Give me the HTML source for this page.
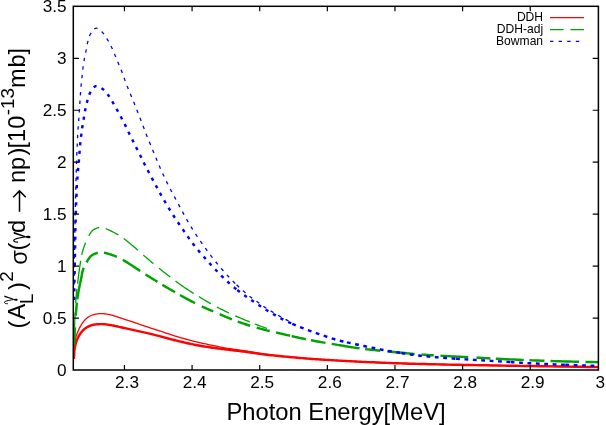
<!DOCTYPE html>
<html><head><meta charset="utf-8"><title>plot</title>
<style>html,body{margin:0;padding:0;background:#fff;}body{width:606px;height:425px;position:relative;overflow:hidden;font-family:"Liberation Sans",sans-serif;}</style>
</head><body>
<svg width="606" height="425" viewBox="0 0 606 425" style="position:absolute;left:0;top:0;will-change:transform;opacity:0.999">
<rect x="0" y="0" width="606" height="425" fill="#fff"/>
<defs><clipPath id="c"><rect x="72.8" y="5.8" width="526.1" height="364.7"/></clipPath></defs>
<g fill="none" stroke-linejoin="round" clip-path="url(#c)">
<path d="M73.90,358.90 L73.95,358.05 L74.00,357.20 L74.04,356.34 L74.07,355.48 L74.11,354.62 L74.15,353.76 L74.19,352.91 L74.25,352.07 L74.31,351.23 L74.39,350.40 L74.49,349.59 L74.60,348.80 L74.72,348.10 L74.84,347.41 L74.97,346.72 L75.11,346.05 L75.27,345.38 L75.42,344.72 L75.59,344.07 L75.77,343.42 L75.96,342.78 L76.16,342.15 L76.38,341.52 L76.60,340.90 L76.82,340.31 L77.05,339.73 L77.30,339.16 L77.55,338.59 L77.81,338.03 L78.08,337.47 L78.35,336.92 L78.64,336.38 L78.94,335.85 L79.25,335.32 L79.57,334.81 L79.90,334.30 L80.23,333.81 L80.57,333.33 L80.91,332.85 L81.27,332.38 L81.63,331.92 L82.01,331.47 L82.39,331.02 L82.79,330.59 L83.20,330.17 L83.62,329.77 L84.05,329.38 L84.50,329.00 L84.98,328.63 L85.47,328.26 L85.98,327.91 L86.49,327.57 L87.02,327.25 L87.57,326.94 L88.12,326.64 L88.69,326.36 L89.28,326.09 L89.87,325.84 L90.48,325.61 L91.10,325.40 L91.84,325.18 L92.60,324.98 L93.39,324.80 L94.20,324.65 L95.02,324.52 L95.86,324.41 L96.71,324.31 L97.56,324.24 L98.42,324.18 L99.29,324.14 L100.15,324.11 L101.00,324.10 L101.91,324.11 L102.83,324.14 L103.76,324.21 L104.70,324.29 L105.64,324.39 L106.58,324.51 L107.53,324.64 L108.47,324.79 L109.41,324.94 L110.35,325.09 L111.28,325.25 L112.20,325.40 L113.09,325.56 L113.98,325.72 L114.85,325.90 L115.72,326.08 L116.59,326.27 L117.45,326.47 L118.32,326.67 L119.20,326.87 L120.08,327.08 L120.97,327.29 L121.88,327.50 L122.80,327.70 L123.85,327.93 L124.91,328.16 L125.99,328.40 L127.09,328.64 L128.19,328.88 L129.30,329.12 L130.41,329.37 L131.53,329.62 L132.65,329.86 L133.77,330.11 L134.89,330.36 L136.00,330.60 L137.13,330.85 L138.27,331.09 L139.41,331.34 L140.55,331.58 L141.70,331.83 L142.85,332.08 L143.99,332.33 L145.13,332.58 L146.26,332.83 L147.39,333.08 L148.50,333.34 L149.60,333.60 L150.62,333.85 L151.61,334.10 L152.59,334.34 L153.56,334.59 L154.52,334.85 L155.48,335.10 L156.45,335.36 L157.42,335.62 L158.41,335.88 L159.41,336.15 L160.44,336.42 L161.50,336.70 L162.78,337.04 L164.09,337.38 L165.43,337.74 L166.80,338.10 L168.18,338.47 L169.58,338.84 L170.98,339.21 L172.40,339.58 L173.81,339.95 L175.21,340.31 L176.61,340.66 L178.00,341.00 L179.37,341.33 L180.75,341.66 L182.12,341.99 L183.49,342.31 L184.87,342.63 L186.24,342.94 L187.62,343.25 L188.99,343.55 L190.37,343.85 L191.74,344.14 L193.12,344.42 L194.50,344.70 L195.87,344.97 L197.24,345.23 L198.62,345.48 L199.99,345.72 L201.37,345.96 L202.74,346.20 L204.12,346.43 L205.49,346.65 L206.87,346.87 L208.25,347.08 L209.62,347.29 L211.00,347.50 L212.37,347.70 L213.75,347.89 L215.12,348.08 L216.50,348.25 L217.87,348.43 L219.25,348.60 L220.62,348.77 L222.00,348.93 L223.37,349.10 L224.75,349.26 L226.12,349.43 L227.50,349.60 L228.87,349.77 L230.23,349.93 L231.58,350.09 L232.93,350.25 L234.28,350.41 L235.63,350.57 L236.99,350.73 L238.36,350.90 L239.74,351.06 L241.14,351.24 L242.56,351.41 L244.00,351.60 L245.64,351.82 L247.31,352.05 L248.99,352.29 L250.69,352.54 L252.40,352.79 L254.14,353.04 L255.88,353.30 L257.64,353.55 L259.41,353.80 L261.20,354.04 L262.99,354.28 L264.80,354.50 L266.78,354.73 L268.79,354.96 L270.82,355.18 L272.87,355.40 L274.93,355.61 L277.01,355.82 L279.09,356.02 L281.18,356.22 L283.27,356.42 L285.35,356.61 L287.43,356.81 L289.50,357.00 L291.56,357.19 L293.63,357.38 L295.70,357.57 L297.76,357.75 L299.83,357.93 L301.90,358.11 L303.97,358.29 L306.03,358.46 L308.10,358.63 L310.17,358.79 L312.23,358.95 L314.30,359.10 L316.35,359.25 L318.40,359.39 L320.43,359.52 L322.46,359.65 L324.49,359.77 L326.53,359.89 L328.57,360.01 L330.62,360.13 L332.69,360.25 L334.77,360.36 L336.87,360.48 L339.00,360.60 L341.33,360.73 L343.68,360.86 L346.04,360.99 L348.42,361.12 L350.82,361.25 L353.24,361.38 L355.67,361.50 L358.11,361.62 L360.56,361.75 L363.03,361.87 L365.51,361.98 L368.00,362.10 L370.68,362.22 L373.38,362.34 L376.10,362.46 L378.84,362.57 L381.60,362.68 L384.37,362.79 L387.14,362.90 L389.92,363.01 L392.70,363.11 L395.47,363.21 L398.24,363.31 L401.00,363.40 L403.73,363.49 L406.44,363.57 L409.13,363.66 L411.80,363.73 L414.48,363.81 L417.17,363.88 L419.87,363.95 L422.61,364.02 L425.38,364.09 L428.19,364.16 L431.06,364.23 L434.00,364.30 L437.53,364.38 L441.14,364.46 L444.82,364.54 L448.56,364.62 L452.34,364.69 L456.17,364.77 L460.04,364.84 L463.92,364.92 L467.82,364.99 L471.72,365.06 L475.62,365.13 L479.50,365.20 L483.53,365.27 L487.53,365.34 L491.53,365.41 L495.54,365.47 L499.55,365.54 L503.60,365.60 L507.68,365.67 L511.80,365.73 L515.99,365.80 L520.24,365.86 L524.57,365.93 L529.00,366.00 L534.38,366.09 L539.90,366.17 L545.55,366.26 L551.30,366.35 L557.12,366.45 L563.01,366.54 L568.95,366.63 L574.90,366.73 L580.85,366.82 L586.78,366.91 L592.67,367.01 L598.50,367.10" stroke="#ff0000" stroke-width="2.45"/>
<path d="M74.00,358.50 L74.10,356.90 L74.18,355.25 L74.25,353.58 L74.32,351.89 L74.38,350.21 L74.45,348.53 L74.54,346.89 L74.64,345.29 L74.76,343.74 L74.90,342.27 L75.08,340.89 L75.30,339.60 L75.47,338.80 L75.64,338.04 L75.83,337.32 L76.03,336.62 L76.24,335.96 L76.45,335.31 L76.68,334.68 L76.91,334.06 L77.15,333.44 L77.40,332.83 L77.65,332.22 L77.90,331.60 L78.14,331.02 L78.39,330.44 L78.64,329.87 L78.89,329.31 L79.15,328.75 L79.42,328.20 L79.69,327.65 L79.98,327.11 L80.27,326.58 L80.57,326.05 L80.88,325.52 L81.20,325.00 L81.53,324.48 L81.88,323.95 L82.23,323.42 L82.60,322.90 L82.97,322.38 L83.35,321.87 L83.74,321.37 L84.13,320.88 L84.54,320.41 L84.95,319.95 L85.37,319.52 L85.80,319.10 L86.20,318.73 L86.60,318.38 L87.01,318.03 L87.41,317.70 L87.83,317.38 L88.26,317.07 L88.69,316.78 L89.14,316.50 L89.60,316.23 L90.08,315.97 L90.58,315.73 L91.10,315.50 L91.77,315.24 L92.47,314.99 L93.20,314.76 L93.97,314.55 L94.75,314.36 L95.55,314.19 L96.37,314.04 L97.18,313.91 L98.00,313.80 L98.81,313.71 L99.61,313.64 L100.40,313.60 L101.16,313.58 L101.92,313.59 L102.67,313.62 L103.41,313.67 L104.16,313.75 L104.91,313.84 L105.66,313.95 L106.42,314.08 L107.20,314.22 L107.98,314.37 L108.78,314.53 L109.60,314.70 L110.62,314.93 L111.68,315.19 L112.75,315.49 L113.84,315.80 L114.95,316.14 L116.07,316.49 L117.19,316.86 L118.32,317.23 L119.45,317.60 L120.58,317.98 L121.70,318.34 L122.80,318.70 L123.90,319.05 L125.00,319.41 L126.10,319.77 L127.20,320.13 L128.29,320.50 L129.39,320.87 L130.49,321.24 L131.59,321.61 L132.69,321.98 L133.79,322.35 L134.89,322.73 L136.00,323.10 L137.13,323.48 L138.27,323.87 L139.41,324.25 L140.55,324.64 L141.70,325.03 L142.84,325.43 L143.99,325.82 L145.12,326.20 L146.26,326.59 L147.38,326.96 L148.50,327.34 L149.60,327.70 L150.61,328.03 L151.60,328.35 L152.58,328.67 L153.55,328.98 L154.51,329.28 L155.48,329.58 L156.44,329.89 L157.42,330.20 L158.41,330.51 L159.41,330.83 L160.44,331.16 L161.50,331.50 L162.78,331.92 L164.09,332.35 L165.43,332.80 L166.80,333.26 L168.18,333.72 L169.58,334.19 L170.98,334.66 L172.39,335.13 L173.80,335.59 L175.21,336.04 L176.61,336.48 L178.00,336.90 L179.37,337.31 L180.74,337.71 L182.11,338.10 L183.49,338.49 L184.86,338.88 L186.24,339.25 L187.61,339.62 L188.99,339.99 L190.37,340.35 L191.74,340.71 L193.12,341.06 L194.50,341.40 L195.87,341.74 L197.24,342.07 L198.62,342.39 L199.99,342.71 L201.37,343.02 L202.74,343.33 L204.12,343.63 L205.49,343.93 L206.87,344.23 L208.25,344.52 L209.62,344.81 L211.00,345.10 L212.37,345.39 L213.75,345.67 L215.12,345.95 L216.49,346.23 L217.87,346.51 L219.24,346.78 L220.62,347.05 L221.99,347.31 L223.37,347.57 L224.75,347.82 L226.12,348.06 L227.50,348.30 L228.87,348.53 L230.22,348.74 L231.58,348.94 L232.93,349.13 L234.28,349.32 L235.63,349.51 L236.99,349.69 L238.36,349.88 L239.74,350.07 L241.14,350.27 L242.56,350.48 L244.00,350.70 L245.64,350.96 L247.31,351.24 L248.99,351.54 L250.69,351.84 L252.40,352.14 L254.13,352.45 L255.88,352.76 L257.64,353.07 L259.41,353.37 L261.20,353.66 L262.99,353.94 L264.80,354.20 L266.78,354.47 L268.79,354.74 L270.82,354.99 L272.87,355.24 L274.93,355.48 L277.01,355.71 L279.09,355.94 L281.18,356.16 L283.27,356.37 L285.35,356.59 L287.43,356.79 L289.50,357.00 L291.56,357.20 L293.63,357.40 L295.69,357.59 L297.76,357.77 L299.83,357.95 L301.90,358.13 L303.96,358.30 L306.03,358.47 L308.10,358.63 L310.17,358.79 L312.23,358.95 L314.30,359.10 L316.35,359.25 L318.40,359.39 L320.43,359.52 L322.46,359.65 L324.49,359.77 L326.53,359.89 L328.57,360.01 L330.62,360.13 L332.69,360.25 L334.77,360.36 L336.87,360.48 L339.00,360.60 L341.33,360.73 L343.68,360.86 L346.04,360.99 L348.42,361.12 L350.82,361.25 L353.24,361.38 L355.67,361.50 L358.11,361.62 L360.56,361.75 L363.03,361.87 L365.51,361.98 L368.00,362.10 L370.68,362.22 L373.38,362.34 L376.10,362.46 L378.84,362.57 L381.60,362.68 L384.37,362.79 L387.14,362.90 L389.92,363.01 L392.70,363.11 L395.47,363.21 L398.24,363.31 L401.00,363.40 L403.73,363.49 L406.44,363.57 L409.13,363.66 L411.80,363.73 L414.48,363.81 L417.17,363.88 L419.87,363.95 L422.61,364.02 L425.38,364.09 L428.19,364.16 L431.06,364.23 L434.00,364.30 L437.53,364.38 L441.14,364.46 L444.82,364.54 L448.56,364.62 L452.34,364.69 L456.17,364.77 L460.04,364.84 L463.92,364.92 L467.82,364.99 L471.72,365.06 L475.62,365.13 L479.50,365.20 L483.53,365.27 L487.53,365.34 L491.53,365.41 L495.54,365.47 L499.55,365.54 L503.60,365.60 L507.68,365.67 L511.80,365.73 L515.99,365.80 L520.24,365.86 L524.57,365.93 L529.00,366.00 L534.38,366.09 L539.90,366.17 L545.55,366.26 L551.30,366.35 L557.12,366.45 L563.01,366.54 L568.95,366.63 L574.90,366.73 L580.85,366.82 L586.78,366.91 L592.67,367.01 L598.50,367.10" stroke="#ff0000" stroke-width="1.3"/>
<path d="M74.10,345.40 L74.20,343.41 L74.29,341.41 L74.38,339.40 L74.47,337.40 L74.55,335.39 L74.64,333.39 L74.74,331.39 L74.83,329.39 L74.94,327.41 L75.05,325.43 L75.17,323.46 L75.30,321.50 L75.44,319.60 L75.58,317.67 L75.73,315.72 L75.89,313.76 L76.05,311.81 L76.21,309.88 L76.39,307.98 L76.56,306.13 L76.74,304.33 L76.93,302.60 L77.11,300.95 L77.30,299.40 L77.43,298.39 L77.56,297.42 L77.70,296.50 L77.83,295.61 L77.97,294.75 L78.10,293.90 L78.24,293.08 L78.39,292.26 L78.54,291.43 L78.69,290.60 L78.84,289.76 L79.00,288.90 L79.17,288.01 L79.34,287.12 L79.52,286.23 L79.70,285.34 L79.89,284.45 L80.07,283.55 L80.26,282.66 L80.45,281.78 L80.64,280.90 L80.83,280.02 L81.02,279.16 L81.20,278.30 L81.36,277.51 L81.51,276.72 L81.65,275.93 L81.79,275.14 L81.93,274.37 L82.07,273.59 L82.22,272.82 L82.38,272.06 L82.55,271.31 L82.74,270.56 L82.96,269.83 L83.20,269.10 L83.46,268.40 L83.74,267.70 L84.04,267.01 L84.36,266.32 L84.69,265.64 L85.04,264.97 L85.39,264.31 L85.75,263.66 L86.11,263.02 L86.48,262.40 L86.84,261.79 L87.20,261.20 L87.50,260.70 L87.81,260.21 L88.11,259.72 L88.41,259.24 L88.71,258.76 L89.02,258.30 L89.33,257.86 L89.66,257.43 L89.99,257.01 L90.35,256.62 L90.71,256.25 L91.10,255.90 L91.49,255.59 L91.90,255.29 L92.33,255.01 L92.77,254.75 L93.22,254.50 L93.68,254.27 L94.15,254.06 L94.61,253.86 L95.07,253.67 L95.53,253.50 L95.97,253.34 L96.40,253.20 L96.75,253.10 L97.09,253.01 L97.42,252.93 L97.76,252.86 L98.09,252.80 L98.42,252.76 L98.75,252.72 L99.08,252.69 L99.41,252.66 L99.74,252.64 L100.07,252.62 L100.40,252.60 L100.72,252.59 L101.05,252.58 L101.36,252.57 L101.68,252.58 L102.00,252.58 L102.32,252.59 L102.64,252.61 L102.96,252.64 L103.29,252.67 L103.62,252.71 L103.96,252.75 L104.30,252.80 L104.71,252.87 L105.13,252.95 L105.56,253.05 L105.99,253.15 L106.43,253.26 L106.87,253.38 L107.32,253.51 L107.77,253.64 L108.22,253.78 L108.68,253.92 L109.14,254.06 L109.60,254.20 L110.13,254.36 L110.66,254.53 L111.20,254.70 L111.75,254.87 L112.30,255.05 L112.85,255.24 L113.41,255.43 L113.97,255.63 L114.52,255.83 L115.08,256.05 L115.64,256.27 L116.20,256.50 L116.79,256.76 L117.38,257.02 L117.96,257.28 L118.53,257.55 L119.10,257.83 L119.68,258.12 L120.27,258.42 L120.88,258.74 L121.50,259.08 L122.14,259.43 L122.80,259.80 L123.50,260.20 L124.63,260.86 L125.84,261.61 L127.13,262.41 L128.47,263.27 L129.85,264.17 L131.25,265.09 L132.67,266.03 L134.07,266.96 L135.45,267.88 L136.79,268.77 L138.08,269.61 L139.30,270.40 L140.24,271.01 L141.17,271.60 L142.07,272.19 L142.97,272.76 L143.84,273.33 L144.71,273.88 L145.56,274.43 L146.39,274.96 L147.21,275.49 L148.02,276.00 L148.82,276.51 L149.60,277.00 L150.22,277.39 L150.82,277.76 L151.39,278.12 L151.96,278.47 L152.51,278.81 L153.06,279.14 L153.61,279.48 L154.17,279.82 L154.74,280.17 L155.33,280.53 L155.95,280.91 L156.60,281.30 L157.49,281.84 L158.42,282.41 L159.37,282.99 L160.34,283.58 L161.34,284.19 L162.36,284.81 L163.40,285.44 L164.46,286.08 L165.55,286.72 L166.65,287.38 L167.77,288.04 L168.90,288.70 L170.34,289.54 L171.85,290.41 L173.42,291.31 L175.02,292.23 L176.66,293.17 L178.31,294.10 L179.97,295.04 L181.62,295.96 L183.25,296.87 L184.85,297.75 L186.40,298.59 L187.90,299.40 L189.12,300.05 L190.33,300.69 L191.52,301.32 L192.69,301.93 L193.85,302.52 L194.99,303.11 L196.13,303.68 L197.25,304.25 L198.37,304.80 L199.49,305.34 L200.59,305.88 L201.70,306.40 L202.69,306.86 L203.66,307.30 L204.62,307.73 L205.57,308.15 L206.51,308.55 L207.45,308.96 L208.40,309.36 L209.34,309.76 L210.29,310.16 L211.25,310.56 L212.22,310.98 L213.20,311.40 L214.26,311.86 L215.32,312.33 L216.39,312.80 L217.46,313.27 L218.54,313.74 L219.62,314.22 L220.72,314.70 L221.82,315.18 L222.94,315.66 L224.08,316.14 L225.23,316.62 L226.40,317.10 L227.75,317.65 L229.12,318.20 L230.52,318.77 L231.93,319.33 L233.36,319.89 L234.81,320.46 L236.27,321.02 L237.74,321.57 L239.22,322.12 L240.71,322.66 L242.20,323.19 L243.70,323.70 L245.30,324.23 L246.91,324.75 L248.55,325.26 L250.19,325.77 L251.85,326.26 L253.52,326.75 L255.19,327.23 L256.86,327.70 L258.53,328.16 L260.20,328.62 L261.85,329.06 L263.50,329.50 L265.09,329.92 L266.68,330.32 L268.27,330.71 L269.86,331.09 L271.44,331.47 L273.03,331.84 L274.61,332.20 L276.19,332.56 L277.77,332.92 L279.35,333.28 L280.92,333.64 L282.50,334.00 L284.05,334.36 L285.60,334.72 L287.15,335.08 L288.69,335.43 L290.23,335.79 L291.77,336.14 L293.31,336.49 L294.86,336.84 L296.41,337.18 L297.97,337.53 L299.53,337.86 L301.10,338.20 L302.73,338.54 L304.37,338.88 L306.02,339.22 L307.68,339.56 L309.34,339.89 L311.01,340.22 L312.68,340.55 L314.34,340.87 L315.99,341.19 L317.64,341.50 L319.28,341.80 L320.90,342.10 L322.45,342.38 L324.00,342.65 L325.56,342.91 L327.11,343.17 L328.66,343.43 L330.21,343.68 L331.73,343.92 L333.24,344.16 L334.73,344.40 L336.19,344.64 L337.61,344.87 L339.00,345.10 L340.12,345.29 L341.20,345.47 L342.25,345.65 L343.27,345.83 L344.28,346.01 L345.28,346.18 L346.28,346.35 L347.29,346.53 L348.30,346.70 L349.34,346.86 L350.40,347.03 L351.50,347.20 L352.79,347.39 L354.12,347.59 L355.46,347.78 L356.83,347.97 L358.21,348.16 L359.60,348.34 L361.01,348.53 L362.41,348.71 L363.82,348.89 L365.22,349.06 L366.62,349.23 L368.00,349.40 L369.37,349.56 L370.75,349.71 L372.12,349.86 L373.50,350.01 L374.87,350.15 L376.25,350.29 L377.62,350.42 L379.00,350.56 L380.37,350.69 L381.75,350.83 L383.12,350.96 L384.50,351.10 L385.87,351.24 L387.25,351.37 L388.62,351.51 L390.00,351.64 L391.37,351.78 L392.75,351.91 L394.12,352.05 L395.50,352.18 L396.87,352.31 L398.25,352.44 L399.62,352.57 L401.00,352.70 L402.37,352.83 L403.75,352.96 L405.12,353.09 L406.50,353.22 L407.87,353.35 L409.25,353.47 L410.62,353.60 L412.00,353.73 L413.37,353.85 L414.75,353.97 L416.12,354.09 L417.50,354.20 L418.86,354.31 L420.20,354.42 L421.52,354.52 L422.83,354.62 L424.14,354.72 L425.46,354.82 L426.80,354.92 L428.16,355.02 L429.55,355.11 L430.98,355.21 L432.46,355.30 L434.00,355.40 L436.13,355.53 L438.34,355.65 L440.63,355.78 L442.99,355.90 L445.41,356.02 L447.87,356.15 L450.37,356.27 L452.89,356.39 L455.43,356.51 L457.96,356.64 L460.49,356.77 L463.00,356.90 L465.68,357.04 L468.41,357.19 L471.16,357.34 L473.94,357.50 L476.74,357.66 L479.54,357.81 L482.33,357.97 L485.12,358.12 L487.89,358.27 L490.63,358.42 L493.34,358.56 L496.00,358.70 L498.40,358.82 L500.76,358.94 L503.08,359.05 L505.37,359.16 L507.65,359.27 L509.92,359.38 L512.20,359.49 L514.49,359.59 L516.81,359.69 L519.16,359.80 L521.55,359.90 L524.00,360.00 L526.84,360.12 L529.72,360.23 L532.65,360.35 L535.62,360.46 L538.62,360.58 L541.64,360.69 L544.68,360.80 L547.74,360.90 L550.81,361.01 L553.88,361.11 L556.94,361.21 L560.00,361.30 L563.16,361.39 L566.34,361.48 L569.53,361.56 L572.74,361.63 L575.95,361.71 L579.17,361.78 L582.39,361.85 L585.62,361.92 L588.84,361.99 L592.07,362.06 L595.29,362.13 L598.50,362.20" stroke="#00a300" stroke-width="2.45" stroke-dasharray="0.0 0.0 18.0 11.7 13.2 3.2 32.4 6.0 15.4 6.2 13.5 6.7 20.7 6.3 14.1 5.7 14.7 5.7 17.1 7.5 12.5 7.0 13.3 6.2 13.1 6.9 13.4 6.5 14.4 1.6 14.6 5.1 14.8 6.3 28.2 5.7 15.2 6.9 27.6 6.8 12.5 6.6 27.8 8.3 13.9 5.4 28.0 5.7 15.0 6.1 28.4 6.5 12.9 6.6 13.7 6.6 13.7 6.6"/>
<path d="M74.10,339.60 L74.17,337.59 L74.25,335.55 L74.32,333.49 L74.39,331.43 L74.46,329.36 L74.54,327.31 L74.61,325.27 L74.68,323.25 L74.76,321.27 L74.84,319.33 L74.92,317.44 L75.00,315.60 L75.07,314.13 L75.14,312.68 L75.21,311.24 L75.28,309.83 L75.35,308.45 L75.42,307.08 L75.49,305.74 L75.57,304.42 L75.65,303.13 L75.73,301.86 L75.81,300.62 L75.90,299.40 L75.97,298.45 L76.05,297.52 L76.13,296.62 L76.20,295.73 L76.28,294.86 L76.37,294.01 L76.45,293.16 L76.54,292.32 L76.62,291.47 L76.71,290.63 L76.81,289.77 L76.90,288.90 L77.00,288.02 L77.10,287.15 L77.20,286.27 L77.30,285.40 L77.41,284.53 L77.52,283.66 L77.63,282.78 L77.74,281.90 L77.85,281.01 L77.97,280.12 L78.08,279.21 L78.20,278.30 L78.33,277.29 L78.46,276.27 L78.60,275.24 L78.73,274.20 L78.87,273.15 L79.01,272.09 L79.15,271.04 L79.30,269.98 L79.44,268.93 L79.59,267.88 L79.75,266.83 L79.90,265.80 L80.05,264.79 L80.20,263.79 L80.34,262.78 L80.48,261.77 L80.63,260.77 L80.78,259.77 L80.94,258.77 L81.10,257.78 L81.28,256.80 L81.47,255.82 L81.68,254.86 L81.90,253.90 L82.13,253.00 L82.37,252.10 L82.63,251.20 L82.89,250.31 L83.17,249.43 L83.46,248.55 L83.75,247.68 L84.05,246.83 L84.36,245.98 L84.67,245.14 L84.98,244.31 L85.30,243.50 L85.59,242.77 L85.88,242.04 L86.18,241.32 L86.48,240.60 L86.79,239.89 L87.10,239.19 L87.42,238.50 L87.74,237.83 L88.07,237.17 L88.40,236.53 L88.75,235.90 L89.10,235.30 L89.40,234.79 L89.70,234.29 L90.00,233.80 L90.29,233.31 L90.60,232.84 L90.91,232.37 L91.23,231.93 L91.57,231.50 L91.92,231.09 L92.29,230.70 L92.68,230.34 L93.10,230.00 L93.56,229.67 L94.05,229.36 L94.57,229.07 L95.11,228.80 L95.66,228.54 L96.23,228.31 L96.81,228.11 L97.40,227.93 L97.98,227.77 L98.56,227.65 L99.14,227.56 L99.70,227.50 L100.24,227.48 L100.77,227.49 L101.30,227.53 L101.83,227.60 L102.36,227.69 L102.89,227.81 L103.43,227.96 L103.98,228.12 L104.54,228.29 L105.11,228.48 L105.70,228.69 L106.30,228.90 L107.20,229.24 L108.16,229.64 L109.16,230.09 L110.20,230.58 L111.26,231.10 L112.33,231.65 L113.40,232.21 L114.45,232.78 L115.46,233.34 L116.44,233.89 L117.35,234.41 L118.20,234.90 L118.77,235.24 L119.32,235.56 L119.84,235.89 L120.34,236.20 L120.83,236.52 L121.30,236.83 L121.77,237.15 L122.23,237.46 L122.69,237.79 L123.15,238.11 L123.62,238.45 L124.10,238.80 L124.60,239.17 L125.10,239.55 L125.59,239.93 L126.08,240.31 L126.57,240.70 L127.06,241.10 L127.55,241.50 L128.05,241.91 L128.55,242.32 L129.06,242.74 L129.57,243.17 L130.10,243.60 L130.73,244.12 L131.38,244.66 L132.04,245.22 L132.72,245.78 L133.40,246.36 L134.09,246.94 L134.77,247.53 L135.45,248.10 L136.12,248.67 L136.77,249.23 L137.40,249.78 L138.00,250.30 L138.48,250.72 L138.94,251.12 L139.39,251.52 L139.83,251.91 L140.26,252.29 L140.69,252.68 L141.11,253.06 L141.54,253.44 L141.97,253.82 L142.40,254.21 L142.85,254.60 L143.30,255.00 L143.81,255.45 L144.34,255.91 L144.87,256.38 L145.42,256.86 L145.97,257.34 L146.52,257.83 L147.06,258.30 L147.60,258.77 L148.13,259.23 L148.64,259.67 L149.13,260.10 L149.60,260.50 L149.93,260.79 L150.25,261.05 L150.54,261.31 L150.83,261.55 L151.11,261.78 L151.39,262.02 L151.67,262.25 L151.96,262.49 L152.26,262.74 L152.58,263.01 L152.93,263.29 L153.30,263.60 L153.98,264.16 L154.72,264.76 L155.50,265.40 L156.32,266.08 L157.19,266.78 L158.08,267.51 L159.01,268.26 L159.97,269.02 L160.95,269.80 L161.95,270.60 L162.97,271.40 L164.00,272.20 L165.44,273.31 L166.96,274.49 L168.55,275.71 L170.19,276.98 L171.88,278.27 L173.60,279.57 L175.34,280.88 L177.08,282.17 L178.81,283.45 L180.51,284.68 L182.18,285.87 L183.80,287.00 L185.20,287.96 L186.60,288.90 L188.01,289.82 L189.41,290.72 L190.80,291.61 L192.17,292.48 L193.54,293.33 L194.88,294.16 L196.20,294.98 L197.50,295.77 L198.77,296.55 L200.00,297.30 L200.96,297.89 L201.89,298.45 L202.80,299.00 L203.69,299.53 L204.56,300.06 L205.42,300.57 L206.28,301.07 L207.14,301.57 L208.01,302.07 L208.89,302.58 L209.78,303.08 L210.70,303.60 L211.69,304.15 L212.68,304.70 L213.66,305.25 L214.66,305.80 L215.66,306.34 L216.67,306.89 L217.69,307.44 L218.73,307.99 L219.79,308.53 L220.87,309.09 L221.97,309.64 L223.10,310.20 L224.48,310.87 L225.91,311.55 L227.36,312.23 L228.85,312.92 L230.36,313.61 L231.90,314.30 L233.45,315.00 L235.01,315.69 L236.58,316.37 L238.16,317.05 L239.73,317.73 L241.30,318.40 L242.94,319.10 L244.59,319.79 L246.24,320.49 L247.91,321.18 L249.59,321.87 L251.27,322.55 L252.96,323.23 L254.66,323.91 L256.36,324.57 L258.07,325.23 L259.78,325.87 L261.50,326.50 L263.26,327.13 L265.03,327.76 L266.83,328.38 L268.63,329.00" stroke="#00a300" stroke-width="1.3" stroke-dasharray="0.0 0.0 26.9 9.6 14.3 5.3 23.1 6.0 12.7 7.6 14.0 6.7 14.0 6.5 18.6 7.1 13.2 7.4 14.2 6.5 22.1 6.1 13.9 6.8 13.6 6.8 15.8 5.5 13.0 6.6 13.7 6.6 13.7 6.6"/>
<path d="M74.10,300.00 L74.20,294.50 L74.32,288.68 L74.43,282.67 L74.55,276.55 L74.67,270.43 L74.78,264.41 L74.90,258.60 L75.00,253.09 L75.10,248.00 L75.18,243.42 L75.25,239.45 L75.30,236.20 L75.31,235.20 L75.32,234.31 L75.33,233.49 L75.34,232.74 L75.34,232.05 L75.35,231.40 L75.35,230.78 L75.36,230.17 L75.37,229.56 L75.37,228.94 L75.39,228.29 L75.40,227.60 L75.42,226.88 L75.44,226.17 L75.46,225.45 L75.49,224.73 L75.52,224.02 L75.54,223.30 L75.57,222.58 L75.60,221.87 L75.63,221.15 L75.65,220.43 L75.68,219.72 L75.70,219.00 L75.72,218.28 L75.74,217.57 L75.75,216.85 L75.77,216.13 L75.79,215.41 L75.80,214.70 L75.81,213.98 L75.83,213.26 L75.85,212.55 L75.86,211.83 L75.88,211.11 L75.90,210.40 L75.92,209.69 L75.94,208.98 L75.97,208.27 L75.99,207.56 L76.01,206.86 L76.04,206.15 L76.06,205.44 L76.09,204.73 L76.12,204.03 L76.14,203.32 L76.17,202.61 L76.20,201.90 L76.23,201.18 L76.26,200.47 L76.30,199.75 L76.33,199.03 L76.36,198.31 L76.40,197.59 L76.43,196.87 L76.47,196.15 L76.50,195.43 L76.54,194.72 L76.57,194.01 L76.60,193.30 L76.63,192.62 L76.65,191.94 L76.67,191.26 L76.70,190.59 L76.72,189.91 L76.74,189.24 L76.76,188.57 L76.78,187.90 L76.81,187.23 L76.83,186.55 L76.87,185.88 L76.90,185.20 L76.94,184.51 L76.98,183.82 L77.03,183.13 L77.07,182.45 L77.12,181.76 L77.18,181.06 L77.23,180.37 L77.28,179.68 L77.34,178.99 L77.39,178.29 L77.45,177.60 L77.50,176.90 L77.55,176.19 L77.61,175.48 L77.67,174.76 L77.72,174.04 L77.78,173.33 L77.84,172.61 L77.90,171.89 L77.96,171.17 L78.02,170.45 L78.08,169.73 L78.14,169.02 L78.20,168.30 L78.26,167.58 L78.33,166.86 L78.40,166.15 L78.47,165.43 L78.54,164.71 L78.61,163.99 L78.68,163.27 L78.74,162.56 L78.81,161.84 L78.88,161.12 L78.94,160.41 L79.00,159.70 L79.06,159.00 L79.11,158.31 L79.16,157.62 L79.21,156.93 L79.26,156.24 L79.31,155.56 L79.35,154.87 L79.40,154.18 L79.45,153.49 L79.50,152.80 L79.55,152.10 L79.60,151.40 L79.65,150.68 L79.71,149.95 L79.76,149.22 L79.81,148.48 L79.86,147.75 L79.92,147.01 L79.97,146.27 L80.03,145.53 L80.09,144.80 L80.16,144.06 L80.23,143.33 L80.30,142.60 L80.38,141.88 L80.46,141.16 L80.55,140.44 L80.64,139.71 L80.73,138.99 L80.82,138.28 L80.92,137.56 L81.02,136.84 L81.11,136.13 L81.21,135.42 L81.31,134.71 L81.40,134.00 L81.49,133.32 L81.58,132.64 L81.67,131.96 L81.75,131.28 L81.84,130.61 L81.93,129.94 L82.02,129.27 L82.11,128.60 L82.20,127.92 L82.30,127.25 L82.40,126.58 L82.50,125.90 L82.61,125.21 L82.72,124.52 L82.83,123.83 L82.94,123.14 L83.06,122.45 L83.18,121.76 L83.30,121.07 L83.42,120.38 L83.54,119.69 L83.66,118.99 L83.78,118.30 L83.90,117.60 L84.02,116.89 L84.14,116.17 L84.26,115.46 L84.37,114.74 L84.49,114.02 L84.61,113.30 L84.73,112.58 L84.86,111.86 L84.99,111.14 L85.12,110.42 L85.26,109.71 L85.40,109.00 L85.55,108.30 L85.70,107.60 L85.85,106.90 L86.00,106.21 L86.16,105.51 L86.32,104.82 L86.49,104.13 L86.66,103.44 L86.84,102.75 L87.02,102.06 L87.21,101.38 L87.40,100.70 L87.59,100.03 L87.78,99.35 L87.96,98.67 L88.14,97.99 L88.33,97.32 L88.53,96.64 L88.74,95.98 L88.97,95.32 L89.21,94.67 L89.48,94.03 L89.78,93.41 L90.10,92.80 L90.46,92.17 L90.84,91.50 L91.25,90.81 L91.68,90.12 L92.12,89.44 L92.59,88.79 L93.07,88.17 L93.57,87.61 L94.09,87.12 L94.61,86.71 L95.15,86.40 L95.70,86.20 L96.25,86.12 L96.83,86.14 L97.43,86.24 L98.06,86.41 L98.70,86.64 L99.35,86.93 L99.99,87.26 L100.63,87.63 L101.26,88.01 L101.87,88.41 L102.45,88.81 L103.00,89.20 L103.55,89.62 L104.08,90.09 L104.59,90.58 L105.09,91.11 L105.58,91.66 L106.05,92.23 L106.51,92.82 L106.96,93.41 L107.40,94.01 L107.84,94.61 L108.27,95.21 L108.70,95.80 L109.12,96.38 L109.52,96.97 L109.91,97.57 L110.29,98.17 L110.67,98.78 L111.04,99.39 L111.40,100.01 L111.76,100.63 L112.12,101.25 L112.48,101.86 L112.84,102.48 L113.20,103.10 L113.57,103.72 L113.93,104.34 L114.30,104.96 L114.66,105.59 L115.02,106.21 L115.38,106.84 L115.74,107.47 L116.09,108.09 L116.45,108.72 L116.80,109.35 L117.15,109.97 L117.50,110.60 L117.84,111.22 L118.18,111.83 L118.52,112.45 L118.86,113.06 L119.19,113.68 L119.52,114.29 L119.85,114.91 L120.18,115.53 L120.51,116.14 L120.84,116.76 L121.17,117.38 L121.50,118.00 L121.83,118.62 L122.16,119.24 L122.49,119.86 L122.82,120.49 L123.14,121.11 L123.47,121.73 L123.80,122.36 L124.12,122.98 L124.44,123.61 L124.77,124.24 L125.08,124.87 L125.40,125.50 L125.72,126.14 L126.03,126.79 L126.34,127.44 L126.64,128.09 L126.95,128.74 L127.25,129.39 L127.56,130.05 L127.86,130.70 L128.17,131.35 L128.47,132.00 L128.79,132.65 L129.10,133.30 L129.42,133.95 L129.74,134.59 L130.06,135.23 L130.39,135.88 L130.72,136.52 L131.05,137.16 L131.37,137.80 L131.70,138.44 L132.03,139.08 L132.36,139.72 L132.68,140.36 L133.00,141.00 L133.31,141.63 L133.62,142.25 L133.93,142.88 L134.24,143.50 L134.54,144.13 L134.85,144.75 L135.16,145.37 L135.46,146.00 L135.77,146.62 L136.08,147.25 L136.39,147.87 L136.70,148.50 L137.02,149.14 L137.34,149.78 L137.67,150.42 L137.99,151.06 L138.32,151.71 L138.65,152.35 L138.98,152.99 L139.31,153.64 L139.63,154.28 L139.96,154.92 L140.28,155.56 L140.60,156.20 L140.91,156.83 L141.22,157.46 L141.53,158.08 L141.84,158.71 L142.14,159.33 L142.45,159.96 L142.75,160.58 L143.06,161.21 L143.37,161.83 L143.67,162.45 L143.99,163.08 L144.30,163.70 L144.61,164.32 L144.92,164.92 L145.23,165.52 L145.53,166.11 L145.84,166.70 L146.15,167.30 L146.46,167.90 L146.79,168.52 L147.12,169.15 L147.46,169.81 L147.82,170.49 L148.20,171.20 L148.76,172.27 L149.36,173.39 L149.99,174.57 L150.64,175.80 L151.31,177.06 L152.00,178.34 L152.70,179.64 L153.41,180.95 L154.11,182.26 L154.82,183.56 L155.51,184.84 L156.20,186.10 L156.88,187.35 L157.56,188.59 L158.24,189.84 L158.92,191.09 L159.61,192.33 L160.30,193.58 L160.98,194.82 L161.68,196.06 L162.38,197.30 L163.08,198.54 L163.79,199.77 L164.50,201.00 L165.22,202.22 L165.94,203.44 L166.66,204.65 L167.39,205.86 L168.12,207.07 L168.86,208.27 L169.60,209.48 L170.34,210.68 L171.10,211.88 L171.86,213.09 L172.62,214.29 L173.40,215.50 L174.21,216.74 L175.03,217.99 L175.85,219.24 L176.69,220.48 L177.53,221.73 L178.38,222.98 L179.23,224.22 L180.08,225.47 L180.94,226.71 L181.79,227.94 L182.65,229.17 L183.50,230.40 L184.34,231.61 L185.18,232.82 L186.01,234.03 L186.85,235.24 L187.69,236.44 L188.53,237.64 L189.37,238.84 L190.22,240.03 L191.08,241.21 L191.94,242.38 L192.82,243.55 L193.70,244.70 L194.58,245.83 L195.47,246.95 L196.37,248.06 L197.28,249.16 L198.19,250.25 L199.11,251.34 L200.03,252.42 L200.96,253.50 L201.89,254.58 L202.82,255.65 L203.76,256.73 L204.70,257.80 L205.65,258.88 L206.59,259.95 L207.55,261.02 L208.51,262.09 L209.47,263.16 L210.43,264.22 L211.40,265.28 L212.37,266.33 L213.35,267.38 L214.33,268.43 L215.31,269.47 L216.30,270.50 L217.28,271.52 L218.28,272.55 L219.27,273.58 L220.28,274.60 L221.28,275.62 L222.29,276.63 L223.30,277.64 L224.31,278.62 L225.31,279.60 L226.31,280.55 L227.31,281.49 L228.30,282.40 L229.18,283.20 L230.04,283.97 L230.90,284.73 L231.75,285.47 L232.60,286.19 L233.45,286.91 L234.30,287.62 L235.17,288.33 L236.05,289.04 L236.94,289.75 L237.30,290.03" stroke="#0000ff" stroke-width="2.45" stroke-dasharray="3.2 5.4" stroke-dashoffset="0"/>
<path d="M237.30,290.03 L237.86,290.47 L238.80,291.20 L239.88,292.03 L240.99,292.85 L242.13,293.69 L243.28,294.52 L244.46,295.36 L245.64,296.19 L246.83,297.02 L248.03,297.85 L249.23,298.67 L250.43,299.49 L251.62,300.30 L252.80,301.10 L253.96,301.88 L255.11,302.66 L256.27,303.44 L257.43,304.21 L258.59,304.97 L259.75,305.73 L260.91,306.49 L262.08,307.24 L263.25,307.98 L264.43,308.73 L265.61,309.47 L266.80,310.20 L268.02,310.95 L269.26,311.70 L270.50,312.45 L271.75,313.20 L273.01,313.94 L274.27,314.68 L275.53,315.41 L276.79,316.12 L278.03,316.82 L279.27,317.50 L280.49,318.16 L281.70,318.80 L282.76,319.35 L283.80,319.87 L284.83,320.38 L285.84,320.87 L286.85,321.36 L287.86,321.83 L288.87,322.29 L289.89,322.75 L290.92,323.21 L291.96,323.67 L292.30,323.82" stroke="#0000ff" stroke-width="2.45" stroke-dasharray="3.2 5.4" stroke-dashoffset="0"/>
<path d="M292.30,323.82 L293.02,324.13 L294.10,324.60 L295.30,325.11 L296.52,325.62 L297.76,326.13 L299.01,326.64 L300.27,327.14 L301.55,327.65 L302.83,328.15 L304.11,328.64 L305.41,329.14 L306.70,329.63 L308.00,330.11 L309.30,330.60 L310.65,331.10 L312.02,331.61 L313.41,332.11 L314.81,332.61 L316.21,333.11 L317.61,333.60 L319.01,334.09 L320.40,334.58 L321.78,335.05 L323.14,335.51 L324.48,335.96 L325.80,336.40 L326.95,336.78 L328.08,337.15 L329.20,337.52 L330.31,337.89 L331.41,338.24 L332.50,338.59 L333.59,338.93 L334.67,339.26 L335.75,339.58 L336.83,339.90 L337.91,340.20 L339.00,340.50 L340.04,340.77 L341.07,341.03 L342.10,341.27 L343.12,341.51 L344.13,341.73 L345.15,341.95 L346.18,342.17 L346.90,342.32" stroke="#0000ff" stroke-width="2.45" stroke-dasharray="3.8 4.6" stroke-dashoffset="0"/>
<path d="M346.90,342.32 L347.21,342.39 L348.26,342.60 L349.32,342.83 L350.40,343.06 L351.50,343.30 L352.79,343.59 L354.12,343.88 L355.46,344.18 L356.83,344.48 L358.21,344.79 L359.60,345.09 L361.01,345.40 L362.41,345.71 L363.82,346.01 L365.22,346.31 L366.62,346.61 L368.00,346.90 L369.37,347.19 L370.75,347.47 L372.12,347.76 L373.50,348.04 L374.87,348.32 L376.25,348.60 L377.62,348.87 L379.00,349.15 L380.37,349.42 L381.75,349.68 L383.12,349.94 L384.50,350.20 L385.87,350.45 L387.25,350.70 L388.62,350.94 L390.00,351.18 L391.37,351.42 L392.75,351.66 L394.12,351.89 L395.50,352.11 L396.87,352.34 L398.25,352.56 L399.62,352.78 L401.00,353.00 L401.50,353.08" stroke="#0000ff" stroke-width="2.45" stroke-dasharray="3.8 4.6" stroke-dashoffset="0"/>
<path d="M401.50,353.08 L402.37,353.22 L403.75,353.43 L405.12,353.65 L406.50,353.86 L407.87,354.07 L409.25,354.27 L410.62,354.48 L412.00,354.67 L413.37,354.87 L414.75,355.05 L416.12,355.23 L417.50,355.40 L418.86,355.56 L420.19,355.71 L421.51,355.85 L422.82,355.99 L424.14,356.12 L425.46,356.25 L426.79,356.37 L428.15,356.49 L429.55,356.61 L430.98,356.74 L432.46,356.87 L434.00,357.00 L436.13,357.18 L438.34,357.36 L440.63,357.55 L442.99,357.74 L445.41,357.93 L447.87,358.11 L450.37,358.30 L452.89,358.49 L455.43,358.67 L456.10,358.72" stroke="#0000ff" stroke-width="2.45" stroke-dasharray="3.8 4.6" stroke-dashoffset="0"/>
<path d="M456.10,358.72 L457.96,358.85 L460.49,359.03 L463.00,359.20 L465.67,359.38 L468.38,359.55 L471.10,359.73 L473.84,359.89 L476.60,360.06 L479.37,360.22 L482.14,360.38 L484.92,360.55 L487.70,360.71 L490.48,360.87 L493.24,361.03 L496.00,361.20 L498.75,361.37 L501.51,361.54 L504.27,361.71 L507.04,361.89 L509.80,362.06 L510.70,362.12" stroke="#0000ff" stroke-width="2.45" stroke-dasharray="3.8 4.6" stroke-dashoffset="0"/>
<path d="M510.70,362.12 L512.56,362.24 L515.32,362.41 L518.08,362.58 L520.82,362.74 L523.56,362.90 L526.29,363.05 L529.00,363.20 L531.61,363.34 L534.18,363.47 L536.74,363.59 L539.28,363.71 L541.81,363.83 L544.35,363.95 L546.89,364.06 L549.45,364.17 L552.04,364.28 L554.65,364.39 L557.30,364.49 L560.00,364.60 L563.06,364.72 L565.30,364.80" stroke="#0000ff" stroke-width="2.45" stroke-dasharray="3.8 4.6" stroke-dashoffset="0"/>
<path d="M565.30,364.80 L566.18,364.83 L569.33,364.94 L572.52,365.05 L575.75,365.16 L578.99,365.27 L582.25,365.37 L585.51,365.48 L588.78,365.58 L592.04,365.69 L595.28,365.79 L598.50,365.90" stroke="#0000ff" stroke-width="2.45" stroke-dasharray="3.8 4.6" stroke-dashoffset="0"/>
<path d="M74.10,288.60 L74.20,281.88 L74.29,275.06 L74.39,268.16 L74.48,261.24 L74.57,254.31 L74.67,247.42 L74.76,240.60 L74.86,233.88 L74.96,227.29 L75.07,220.88 L75.18,214.67 L75.30,208.70 L75.40,204.09 L75.51,199.42 L75.62,194.73 L75.74,190.07 L75.86,185.50 L75.98,181.05 L76.10,176.80 L76.21,172.77 L76.32,169.03 L76.43,165.62 L76.52,162.59 L76.60,160.00 L76.63,159.08 L76.66,158.24 L76.68,157.47 L76.71,156.76 L76.73,156.10 L76.75,155.47 L76.77,154.87 L76.80,154.28 L76.82,153.69 L76.85,153.09 L76.87,152.46 L76.90,151.80 L76.93,151.12 L76.96,150.44 L76.99,149.76 L77.03,149.08 L77.06,148.40 L77.09,147.72 L77.13,147.04 L77.16,146.36 L77.20,145.68 L77.23,144.99 L77.27,144.30 L77.30,143.60 L77.33,142.86 L77.37,142.12 L77.40,141.36 L77.43,140.61 L77.46,139.85 L77.49,139.09 L77.52,138.33 L77.56,137.57 L77.59,136.81 L77.63,136.07 L77.66,135.33 L77.70,134.60 L77.74,133.93 L77.77,133.28 L77.81,132.63 L77.85,131.99 L77.89,131.36 L77.93,130.72 L77.97,130.09 L78.01,129.45 L78.06,128.80 L78.10,128.15 L78.15,127.48 L78.20,126.80 L78.26,126.02 L78.32,125.24 L78.38,124.45 L78.45,123.66 L78.52,122.85 L78.59,122.04 L78.66,121.22 L78.73,120.38 L78.80,119.54 L78.87,118.67 L78.93,117.79 L79.00,116.90 L79.08,115.79 L79.15,114.64 L79.23,113.45 L79.30,112.25 L79.38,111.02 L79.45,109.78 L79.53,108.53 L79.60,107.29 L79.67,106.04 L79.75,104.81 L79.82,103.59 L79.90,102.40 L79.97,101.28 L80.04,100.16 L80.11,99.06 L80.18,97.95 L80.25,96.86 L80.32,95.76 L80.39,94.67 L80.47,93.58 L80.55,92.48 L80.63,91.39 L80.71,90.30 L80.80,89.20 L80.89,88.09 L80.99,86.98 L81.10,85.85 L81.20,84.73 L81.31,83.60 L81.43,82.48 L81.54,81.36 L81.65,80.25 L81.77,79.16 L81.88,78.09 L81.99,77.03 L82.10,76.00 L82.19,75.13 L82.28,74.27 L82.37,73.42 L82.45,72.58 L82.54,71.76 L82.63,70.94 L82.72,70.13 L82.81,69.33 L82.90,68.54 L83.00,67.75 L83.10,66.97 L83.20,66.20 L83.30,65.51 L83.40,64.83 L83.50,64.16 L83.60,63.50 L83.71,62.84 L83.81,62.19 L83.92,61.55 L84.03,60.90 L84.15,60.25 L84.26,59.60 L84.38,58.95 L84.50,58.30 L84.62,57.64 L84.75,56.99 L84.88,56.33 L85.01,55.68 L85.14,55.02 L85.28,54.37 L85.42,53.71 L85.55,53.06 L85.69,52.40 L85.83,51.74 L85.96,51.07 L86.10,50.40 L86.24,49.69 L86.37,48.98 L86.50,48.26 L86.62,47.54 L86.75,46.82 L86.88,46.09 L87.01,45.37 L87.15,44.64 L87.30,43.92 L87.45,43.21 L87.62,42.50 L87.80,41.80 L87.98,41.12 L88.16,40.43 L88.33,39.74 L88.51,39.05 L88.70,38.37 L88.90,37.69 L89.11,37.02 L89.34,36.36 L89.59,35.72 L89.87,35.09 L90.17,34.48 L90.50,33.90 L90.86,33.32 L91.24,32.72 L91.65,32.10 L92.09,31.48 L92.54,30.88 L93.01,30.30 L93.50,29.76 L93.99,29.28 L94.49,28.87 L94.99,28.55 L95.50,28.32 L96.00,28.20 L96.50,28.20 L97.01,28.30 L97.54,28.50 L98.08,28.77 L98.63,29.10 L99.18,29.50 L99.73,29.93 L100.27,30.39 L100.80,30.87 L101.32,31.36 L101.82,31.84 L102.30,32.30 L102.81,32.81 L103.30,33.37 L103.78,33.95 L104.24,34.56 L104.69,35.19 L105.13,35.84 L105.56,36.50 L105.98,37.16 L106.40,37.83 L106.80,38.50 L107.20,39.15 L107.60,39.80 L107.97,40.41 L108.34,41.03 L108.69,41.65 L109.04,42.27 L109.38,42.89 L109.71,43.52 L110.04,44.14 L110.36,44.77 L110.67,45.40 L110.99,46.03 L111.29,46.67 L111.60,47.30 L111.90,47.93 L112.19,48.57 L112.47,49.20 L112.75,49.84 L113.02,50.48 L113.29,51.13 L113.56,51.77 L113.83,52.42 L114.09,53.06 L114.36,53.71 L114.63,54.35 L114.90,55.00 L115.18,55.65 L115.45,56.31 L115.73,56.97 L116.00,57.62 L116.28,58.28 L116.55,58.94 L116.83,59.60 L117.10,60.26 L117.38,60.92 L117.65,61.58 L117.93,62.24 L118.20,62.90 L118.48,63.56 L118.76,64.22 L119.04,64.88 L119.32,65.54 L119.60,66.21 L119.89,66.87 L120.17,67.53 L120.44,68.19 L120.71,68.85 L120.98,69.50 L121.24,70.15 L121.50,70.80 L121.73,71.40 L121.96,72.00 L122.17,72.59 L122.38,73.17 L122.59,73.75 L122.79,74.33 L123.00,74.92 L123.21,75.51 L123.42,76.11 L123.64,76.73 L123.86,77.35 L124.10,78.00 L124.40,78.80 L124.70,79.61 L125.01,80.44 L125.32,81.28 L125.64,82.13 L125.97,83.00 L126.30,83.88 L126.64,84.77 L126.99,85.68 L127.35,86.61 L127.72,87.55 L128.10,88.50 L128.59,89.71 L129.10,90.97 L129.63,92.26 L130.19,93.57 L130.75,94.91 L131.32,96.27 L131.90,97.63 L132.47,99.00 L133.05,100.37 L133.61,101.73 L134.16,103.07 L134.70,104.40 L135.22,105.69 L135.73,107.00 L136.25,108.32 L136.77,109.65 L137.28,110.97 L137.79,112.29 L138.29,113.59 L138.78,114.87 L139.26,116.11 L139.72,117.32 L140.17,118.49 L140.60,119.60 L140.91,120.40 L141.21,121.17 L141.50,121.91 L141.78,122.64 L142.06,123.35 L142.33,124.05 L142.60,124.73 L142.86,125.41 L143.12,126.08 L143.38,126.75 L143.64,127.42 L143.90,128.10 L144.13,128.72 L144.36,129.33 L144.59,129.93 L144.81,130.53 L145.03,131.13 L145.24,131.72 L145.46,132.31 L145.68,132.90 L145.90,133.49 L146.13,134.09 L146.36,134.69 L146.60,135.30 L146.86,135.94 L147.11,136.57 L147.37,137.19 L147.62,137.81 L147.89,138.43 L148.15,139.06 L148.42,139.70 L148.70,140.35 L148.99,141.02 L149.28,141.72 L149.58,142.44 L149.90,143.20 L150.37,144.34 L150.87,145.55 L151.39,146.82 L151.93,148.13 L152.48,149.49 L153.05,150.88 L153.63,152.28 L154.21,153.69 L154.79,155.10 L155.37,156.49 L155.94,157.86 L156.50,159.20 L157.04,160.49 L157.58,161.77 L158.12,163.05 L158.65,164.33 L159.19,165.60 L159.73,166.87 L160.27,168.14 L160.82,169.41 L161.38,170.68 L161.94,171.95 L162.51,173.23 L163.10,174.50 L163.71,175.81 L164.34,177.12 L164.97,178.44 L165.61,179.75 L166.26,181.07 L166.91,182.38 L167.57,183.70 L168.24,185.01 L168.90,186.31 L169.57,187.61 L170.23,188.91 L170.90,190.20 L171.55,191.46 L172.21,192.71 L172.87,193.96 L173.54,195.20 L174.20,196.44 L174.87,197.68 L175.54,198.92 L176.21,200.15 L176.88,201.39 L177.55,202.62 L178.23,203.86 L178.90,205.10 L179.58,206.35 L180.25,207.60 L180.92,208.86 L181.60,210.12 L182.27,211.37 L182.95,212.63 L183.63,213.89 L184.31,215.14 L185.00,216.39 L185.69,217.63 L186.39,218.87 L187.10,220.10 L187.81,221.32 L188.52,222.53 L189.23,223.75 L189.95,224.95 L190.68,226.16 L191.41,227.36 L192.14,228.56 L192.88,229.75 L193.62,230.94 L194.38,232.13 L195.13,233.32 L195.90,234.50 L196.69,235.70 L197.50,236.92 L198.34,238.15 L199.19,239.39 L200.04,240.63 L200.89,241.85 L201.74,243.06 L202.57,244.23 L203.38,245.38 L204.16,246.47 L204.90,247.52 L205.60,248.50 L206.06,249.14 L206.48,249.74 L206.88,250.30 L207.27,250.84 L207.64,251.37 L208.01,251.88 L208.39,252.39 L208.77,252.91 L209.16,253.44 L209.58,253.99 L210.02,254.58 L210.50,255.20 L211.24,256.15 L212.02,257.16 L212.85,258.22 L213.72,259.31 L214.62,260.44 L215.54,261.58 L216.47,262.74 L217.42,263.90 L218.38,265.05 L219.33,266.19 L220.27,267.31 L221.20,268.40 L222.12,269.46 L223.04,270.52 L223.96,271.58 L224.90,272.63 L225.83,273.68 L226.77,274.72 L227.72,275.76 L228.67,276.79 L229.62,277.81 L230.58,278.82 L231.54,279.81 L232.50,280.80 L233.45,281.76 L234.42,282.72 L235.41,283.68 L236.41,284.64 L236.60,284.82" stroke="#0000ff" stroke-width="1.3" stroke-dasharray="3.4 5.2" stroke-dashoffset="4.4"/>
<path d="M236.60,284.82 L237.41,285.59 L238.41,286.53 L239.40,287.45 L240.38,288.34 L241.33,289.21 L242.26,290.05 L243.15,290.85 L244.00,291.60 L244.59,292.12 L245.16,292.61 L245.70,293.09 L246.24,293.54 L246.76,293.98 L247.28,294.41 L247.79,294.83 L248.30,295.25 L248.81,295.66 L249.33,296.07 L249.86,296.48 L250.40,296.90 L250.96,297.32 L251.52,297.74 L252.09,298.15 L252.67,298.56 L253.24,298.96 L253.82,299.36 L254.40,299.77 L254.98,300.17 L255.56,300.57 L256.15,300.98 L256.72,301.39 L257.30,301.80 L257.88,302.23 L258.46,302.66 L259.04,303.10 L259.62,303.54 L260.20,303.99 L260.77,304.43 L261.35,304.87 L261.94,305.31 L262.52,305.74 L263.11,306.17 L263.70,306.59 L264.30,307.00 L264.90,307.40 L265.51,307.79 L266.12,308.17 L266.73,308.55 L267.35,308.93 L267.97,309.30 L268.59,309.67 L269.22,310.03 L269.84,310.40 L270.46,310.76 L271.08,311.13 L271.70,311.50 L272.32,311.87 L272.93,312.24 L273.55,312.61 L274.16,312.99 L274.78,313.36 L275.39,313.73 L276.01,314.10 L276.63,314.46 L277.24,314.83 L277.86,315.19 L278.48,315.55 L279.10,315.90 L279.72,316.25 L280.33,316.59 L280.96,316.94 L281.58,317.28 L282.21,317.62 L282.83,317.95 L283.45,318.29 L284.07,318.62 L284.69,318.95 L285.30,319.27 L285.90,319.59 L286.50,319.90 L287.03,320.18 L287.54,320.45 L288.04,320.70 L288.52,320.96 L289.00,321.21 L289.49,321.46 L289.98,321.71 L290.49,321.97 L291.02,322.23 L291.50,322.47" stroke="#0000ff" stroke-width="1.3" stroke-dasharray="3.4 5.2" stroke-dashoffset="0"/>
</g>
<g stroke="#000" fill="none" stroke-linecap="butt">
<rect x="73.30" y="6.30" width="525.10" height="363.70" stroke-width="1.5"/>
<g stroke-width="1.2">
<path d="M124.45,370.00 v-5.0 M124.45,6.30 v5.0"/>
<path d="M192.08,370.00 v-5.0 M192.08,6.30 v5.0"/>
<path d="M259.71,370.00 v-5.0 M259.71,6.30 v5.0"/>
<path d="M327.34,370.00 v-5.0 M327.34,6.30 v5.0"/>
<path d="M394.97,370.00 v-5.0 M394.97,6.30 v5.0"/>
<path d="M462.60,370.00 v-5.0 M462.60,6.30 v5.0"/>
<path d="M530.23,370.00 v-5.0 M530.23,6.30 v5.0"/>
<path d="M73.30,318.05 h5.7 M598.40,318.05 h-5.7"/>
<path d="M73.30,266.10 h5.7 M598.40,266.10 h-5.7"/>
<path d="M73.30,214.15 h5.7 M598.40,214.15 h-5.7"/>
<path d="M73.30,162.20 h5.7 M598.40,162.20 h-5.7"/>
<path d="M73.30,110.25 h5.7 M598.40,110.25 h-5.7"/>
<path d="M73.30,58.30 h5.7 M598.40,58.30 h-5.7"/>
</g></g>
<g font-family="'Liberation Sans', sans-serif" font-size="17.2" fill="#000">
<text x="127.0" y="388.0" text-anchor="middle">2.3</text>
<text x="194.6" y="388.0" text-anchor="middle">2.4</text>
<text x="262.2" y="388.0" text-anchor="middle">2.5</text>
<text x="329.8" y="388.0" text-anchor="middle">2.6</text>
<text x="397.5" y="388.0" text-anchor="middle">2.7</text>
<text x="465.1" y="388.0" text-anchor="middle">2.8</text>
<text x="532.7" y="388.0" text-anchor="middle">2.9</text>
<text x="600.4" y="388.0" text-anchor="middle">3</text>
<text x="66.6" y="376.0" text-anchor="end">0</text>
<text x="66.6" y="324.1" text-anchor="end">0.5</text>
<text x="66.6" y="272.1" text-anchor="end">1</text>
<text x="66.6" y="220.1" text-anchor="end">1.5</text>
<text x="66.6" y="168.2" text-anchor="end">2</text>
<text x="66.6" y="116.2" text-anchor="end">2.5</text>
<text x="66.6" y="64.3" text-anchor="end">3</text>
<text x="66.6" y="12.3" text-anchor="end">3.5</text>
</g>
<text x="336" y="419.7" text-anchor="middle" font-family="'Liberation Sans', sans-serif" font-size="23.75" fill="#000">Photon Energy[MeV]</text>
<g font-family="'Liberation Sans', sans-serif" font-size="12.1" fill="#000" text-anchor="end">
<text x="543.1" y="21.3">DDH</text><text x="543.1" y="33.3">DDH-adj</text><text x="543.1" y="45.2">Bowman</text></g>
<g fill="none" stroke-width="1.3">
<path d="M550,17.7 H584" stroke="#ff0000"/>
<path d="M550,29.6 H584" stroke="#00a300" stroke-dasharray="13.6 6.8"/>
<path d="M550,41.4 H584" stroke="#0000ff" stroke-dasharray="3.4 5.2"/>
</g>
<g transform="translate(25.4,327.5) rotate(-90)" font-family="'Liberation Sans', sans-serif" fill="#000" font-size="23.6">
<text x="-1.0" y="0.0">(</text>
<text x="8.0" y="0.0">A</text>
<text x="23.4" y="7.4" font-size="18.9">L</text>
<g transform="translate(23.20,-11.70) scale(0.800)"><path d="M0.7,-7.8 C0.5,-9.9 1.3,-11.7 2.6,-11.6 C4.0,-11.4 4.7,-7.0 5.9,-0.6" fill="none" stroke="#000" stroke-width="1.25" stroke-linecap="round"/><path d="M9.0,-11.7 L11.1,-11.7 L6.9,-0.2 L5.6,-0.2 Z" fill="#000"/><path d="M5.95,-0.8 C7.7,1.5 7.3,5.1 5.7,5.1 C4.1,5.1 4.0,1.5 5.95,-0.8 Z" fill="#000"/></g>
<text x="37.4" y="0.0">)</text>
<text x="45.8" y="-12.0" font-size="18.9">2</text>
<text x="62.8" y="1.2">σ</text>
<text x="77.0" y="0.0">(</text>
<g transform="translate(84.70,0.00) scale(1.000)"><path d="M0.7,-7.8 C0.5,-9.9 1.3,-11.7 2.6,-11.6 C4.0,-11.4 4.7,-7.0 5.9,-0.6" fill="none" stroke="#000" stroke-width="1.25" stroke-linecap="round"/><path d="M9.0,-11.7 L11.1,-11.7 L6.9,-0.2 L5.6,-0.2 Z" fill="#000"/><path d="M5.95,-0.8 C7.7,1.5 7.3,5.1 5.7,5.1 C4.1,5.1 4.0,1.5 5.95,-0.8 Z" fill="#000"/></g>
<text x="94.6" y="0.0">d</text>
<path d="M115.8,-5.9 H136.4 M130.2,-12.2 L136.6,-5.9 L130.2,0.4" fill="none" stroke="#000" stroke-width="1.5"/>
<text x="144.4" y="0.0">np</text>
<text x="172.0" y="0.0">)</text>
<text x="179.0" y="0.0">[10</text>
<text x="212.2" y="-11.6" font-size="18.9">-13</text>
<text x="239.4" y="0.0">m</text>
<text x="260.0" y="0.0">b]</text>
</g>
</svg>
</body></html>
